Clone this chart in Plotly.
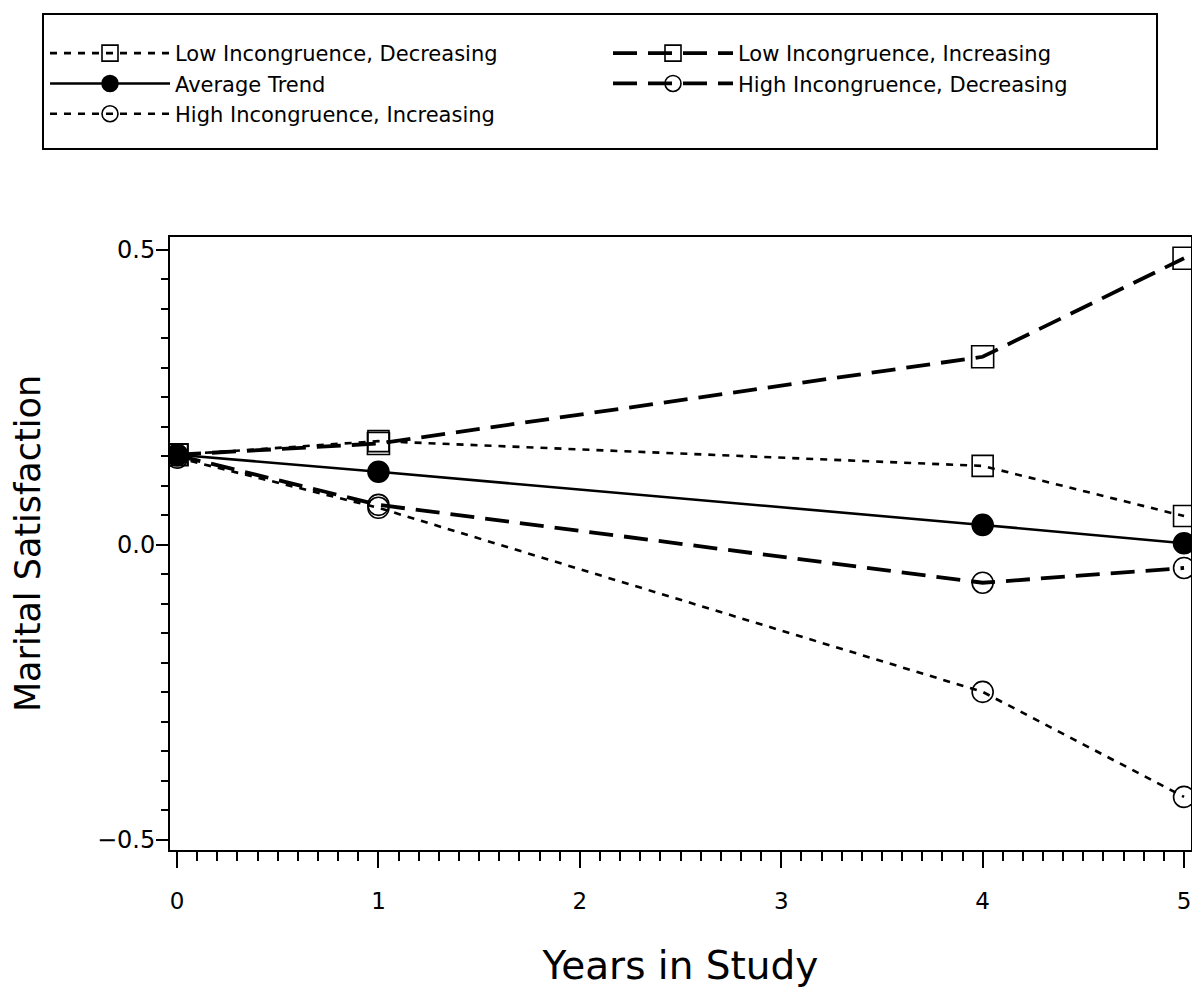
import plotly.graph_objects as go

years = [0, 1, 4, 5]

col1_names = [
    "Low Incongruence, Decreasing",
    "Average Trend",
    "High Incongruence, Increasing",
]
col2_names = [
    "Low Incongruence, Increasing",
    "High Incongruence, Decreasing",
]

low_decreasing = [0.153, 0.176, 0.134, 0.049]
low_increasing = [0.153, 0.172, 0.319, 0.486]
average_trend = [0.153, 0.124, 0.034, 0.003]
high_decreasing = [0.152, 0.068, -0.064, -0.039]
high_increasing = [0.148, 0.063, -0.249, -0.427]

y_tick_vals = [-0.5, 0.0, 0.5]
y_tick_text = ["\u22120.5", "0.0", "0.5"]
x_tick_vals = [0, 1, 2, 3, 4, 5]

values = {
    "Low Incongruence, Decreasing": low_decreasing,
    "Low Incongruence, Increasing": low_increasing,
    "Average Trend": average_trend,
    "High Incongruence, Decreasing": high_decreasing,
    "High Incongruence, Increasing": high_increasing,
}
styles = {
    "Low Incongruence, Decreasing": dict(dash="7px,7px", width=2.6, symbol="square-open", size=21),
    "Low Incongruence, Increasing": dict(dash="24px,11px", width=3.8, symbol="square-open", size=22),
    "Average Trend": dict(dash="solid", width=2.6, symbol="circle", size=21),
    "High Incongruence, Decreasing": dict(dash="24px,11px", width=3.8, symbol="circle-open", size=21),
    "High Incongruence, Increasing": dict(dash="7px,7px", width=2.6, symbol="circle-open", size=21),
}

fig = go.Figure()
for legend_id, names in (("legend", col1_names), ("legend2", col2_names)):
    for name in names:
        s = styles[name]
        fig.add_trace(go.Scatter(
            x=years, y=values[name], name=name, mode="lines+markers",
            legend=legend_id,
            line=dict(color="black", width=s["width"], dash=s["dash"]),
            marker=dict(symbol=s["symbol"], size=s["size"], color="black",
                        line=dict(color="black", width=1.6)),
        ))

font_family = "DejaVu Sans"
OFF = 8  # page body margin
W, H = 1200 - 2 * OFF, 996 - 2 * OFF
L, T = 170 - OFF, 237 - OFF
R = W - (1191 - OFF)
B = H - (850 - OFF)
pw, ph = W - L - R, H - T - B


def px_x(sx):
    return (sx - OFF - L) / pw


def px_y(sy):
    return (H - B - (sy - OFF)) / ph


legend_common = dict(
    orientation="v",
    yanchor="top", xanchor="left",
    font=dict(family=font_family, size=21, color="black"),
    bgcolor="rgba(0,0,0,0)", borderwidth=0,
    itemwidth=120,
)

fig.update_layout(
    width=W, height=H,
    paper_bgcolor="white", plot_bgcolor="white",
    margin=dict(l=L, r=R, t=T, b=B),
    font=dict(family=font_family, color="black"),
    showlegend=True,
    legend=dict(legend_common, x=px_x(45), y=px_y(33)),
    legend2=dict(legend_common, x=px_x(608), y=px_y(33)),
    shapes=[dict(type="rect", xref="paper", yref="paper",
                 x0=px_x(43), x1=px_x(1157), y0=px_y(149), y1=px_y(14),
                 line=dict(color="black", width=2), fillcolor="rgba(0,0,0,0)")],
    xaxis=dict(
        range=[-0.035, 5.0345], automargin=False,
        tickmode="array", tickvals=x_tick_vals,
        ticks="outside", ticklen=16, tickwidth=2, tickcolor="black",
        minor=dict(dtick=0.1, tick0=0, ticks="outside", ticklen=9, tickwidth=2, tickcolor="black"),
        showline=True, linecolor="black", linewidth=2, mirror=True,
        showgrid=False, zeroline=False,
        tickfont=dict(size=23, family=font_family),
        ticklabelstandoff=13, ticklabeloverflow="allow",
        title=dict(text="Years in Study", font=dict(size=39, family=font_family), standoff=39),
    ),
    yaxis=dict(
        range=[-0.517, 0.522], automargin=False,
        tickmode="array", tickvals=y_tick_vals, ticktext=y_tick_text,
        ticks="outside", ticklen=12, tickwidth=2, tickcolor="black",
        minor=dict(dtick=0.05, tick0=0, ticks="outside", ticklen=7, tickwidth=2, tickcolor="black"),
        showline=True, linecolor="black", linewidth=2, mirror=True,
        showgrid=False, zeroline=False,
        tickfont=dict(size=24, family=font_family),
        ticklabelstandoff=-4, ticklabeloverflow="allow",
        title=dict(text="Marital Satisfaction", font=dict(size=35, family=font_family), standoff=54),
    ),
)

fig.write_html("out.html")
